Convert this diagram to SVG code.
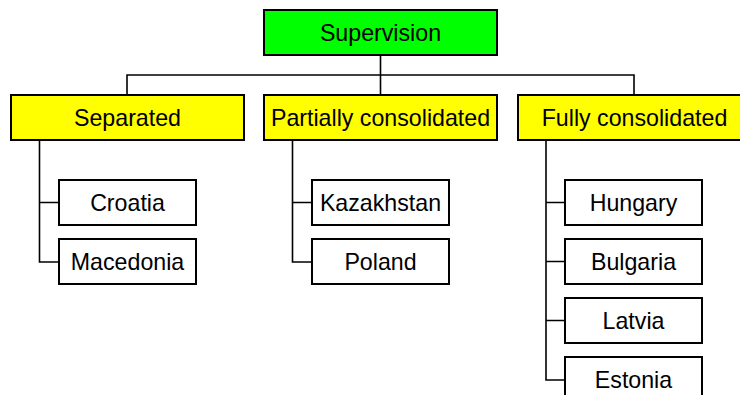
<svg xmlns="http://www.w3.org/2000/svg" width="740" height="395" viewBox="0 0 740 395">
<style>
.box{stroke:#000;stroke-width:2;}
.top{fill:#00ff00;}
.mid{fill:#ffff00;}
.leaf{fill:#fff;}
text{font-family:"Liberation Sans",Arial,sans-serif;font-size:23.2px;text-anchor:middle;fill:#000;}
.conn{fill:none;stroke:#000;stroke-width:1.6;}
</style>
<rect width="740" height="395" fill="#fff"/>
<g id="connectors">
<path class="conn" d="M380.5 55V95M127 95V75H634V95"/>
<path class="conn" d="M39.5 140V262H59M39.5 202.5H59"/>
<path class="conn" d="M292.5 140V262H312M292.5 202.5H312"/>
<path class="conn" d="M546 140V380H565M546 202.5H565M546 261.5H565M546 320.5H565"/>
</g>
<g id="supervision"><rect class="box top" x="264" y="10" width="233" height="45"/><text x="380.5" y="41">Supervision</text></g>
<g id="separated"><rect class="box mid" x="11" y="95" width="233" height="45"/><text x="127.5" y="126">Separated</text></g>
<g id="partially"><rect class="box mid" x="264" y="95" width="233" height="45"/><text x="380.5" y="126">Partially consolidated</text></g>
<g id="fully"><rect class="box mid" x="518" y="95" width="233" height="45"/><text x="634.5" y="126">Fully consolidated</text></g>
<g id="croatia"><rect class="box leaf" x="59" y="180" width="137" height="45"/><text x="127.5" y="211">Croatia</text></g>
<g id="macedonia"><rect class="box leaf" x="59" y="239" width="137" height="45"/><text x="127.5" y="270">Macedonia</text></g>
<g id="kazakhstan"><rect class="box leaf" x="312" y="180" width="137" height="45"/><text x="380.5" y="211">Kazakhstan</text></g>
<g id="poland"><rect class="box leaf" x="312" y="239" width="137" height="45"/><text x="380.5" y="270">Poland</text></g>
<g id="hungary"><rect class="box leaf" x="565" y="180" width="137" height="45"/><text x="633.5" y="211">Hungary</text></g>
<g id="bulgaria"><rect class="box leaf" x="565" y="239" width="137" height="45"/><text x="633.5" y="270">Bulgaria</text></g>
<g id="latvia"><rect class="box leaf" x="565" y="298" width="137" height="45"/><text x="633.5" y="329">Latvia</text></g>
<g id="estonia"><rect class="box leaf" x="565" y="357" width="137" height="45"/><text x="633.5" y="388">Estonia</text></g>
</svg>
